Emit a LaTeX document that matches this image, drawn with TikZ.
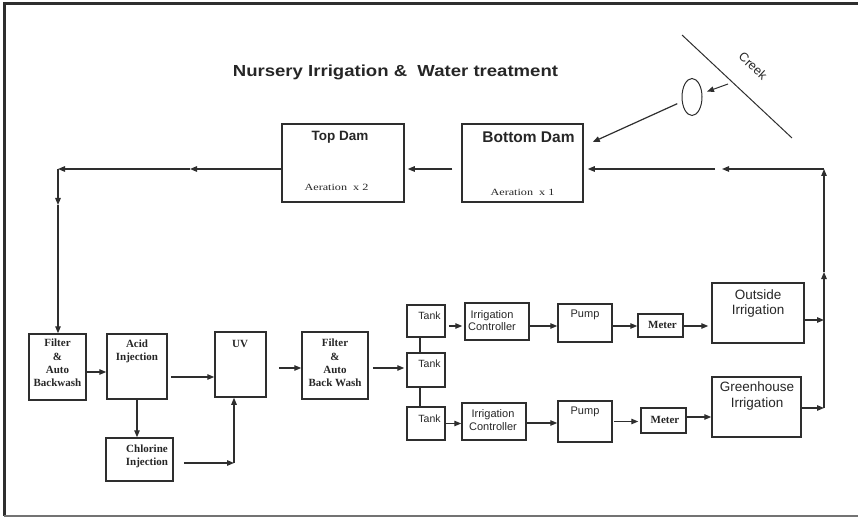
\documentclass[tikz,border=0pt]{standalone}
\usepackage{fontspec}
\setmainfont{Liberation Serif}
\newfontfamily\arialf{Liberation Sans}
\usetikzlibrary{arrows.meta,shapes.geometric}
\definecolor{linec}{HTML}{2E2E2E}
\begin{document}
\begin{tikzpicture}[x=1pt,y=-1pt,
  box/.style={draw=linec, line width=1.5pt, inner sep=0pt},
  conn/.style={draw=linec, line width=1.2pt},
  arr/.style={conn, -{Triangle[length=7pt,width=5.5pt]}},
  sanslbl/.style={font=\arialf\fontsize{11}{12.5}\selectfont, inner sep=0pt, align=center, text=black!85},
  bigsans/.style={font=\arialf\fontsize{13.5}{15.5}\selectfont, inner sep=0pt, align=center, text=black!85},
  serb/.style={font=\bfseries\fontsize{11}{13.2}\selectfont, inner sep=0pt, align=center, text=black!85},
  aer/.style={font=\fontsize{9.5}{11}\selectfont, inner sep=0pt, text=black!85},
]
\useasboundingbox (0,0) rectangle (858,518);
% frame
\draw[draw=linec, line width=3pt] (858,4) -- (4,4) -- (4,516);
\draw[draw=black!55, line width=2pt] (4,516) -- (858,516);

% title
\node[font=\arialf\bfseries\fontsize{16}{19}\selectfont, text=black!85, inner sep=0pt] (title) at (395.5,72) {\scalebox{1.16}[1]{Nursery Irrigation \&\ \ Water treatment}};

% dams
\node[box, minimum width=122pt, minimum height=78pt] (topdam) at (343,163) {};
\node[box, minimum width=121pt, minimum height=78pt] (botdam) at (522.5,163) {};
\node[font=\arialf\bfseries\fontsize{13.5}{15}\selectfont, text=black!85, inner sep=0pt] (topdamt) at (340,137) {Top Dam};
\node[font=\arialf\bfseries\fontsize{15.5}{17}\selectfont, text=black!85, inner sep=0pt] (botdamt) at (528.5,137) {Bottom Dam};
\node[aer] (aer2) at (336.5,187) {\scalebox{1.28}[1]{Aeration\ \ x 2}};
\node[aer] (aer1) at (522.5,192) {\scalebox{1.28}[1]{Aeration\ \ x 1}};

% creek and pond
\coordinate (ck1) at (682,35);
\coordinate (ck2) at (792,138);
\draw[draw=linec, line width=1pt] (ck1) -- (ck2);
\node[font=\arialf\fontsize{12.5}{14}\selectfont, text=black!85, rotate=-43, inner sep=0pt] (creek) at (753,66) {Creek};
\node[draw=linec, line width=1pt, ellipse, minimum width=20pt, minimum height=37pt, inner sep=0pt] (pond) at (692,97) {};
\coordinate (ca) at (728,84);
\draw[arr, line width=1pt, shorten >=5pt] (ca) -- (pond);
\draw[arr, shorten <=5pt] (pond) -- ([xshift=9pt,yshift=21pt]botdam.east);

% treatment train
\node[box, minimum width=57pt, minimum height=66pt] (filter1) at (57.5,367) {};
\node[serb] (filter1t) at (57.5,363) {Filter\\\&\\Auto\\Backwash};
\node[box, minimum width=60pt, minimum height=65pt] (acid) at (137,366.5) {};
\node[serb] (acidt) at (137,351.5) {Acid\\Injection};
\node[box, minimum width=51pt, minimum height=65pt] (uv) at (240.5,364.5) {};
\node[serb] (uvt) at (240,344) {UV};
\node[box, minimum width=67pt, minimum height=43pt] (chlor) at (139.5,459.5) {};
\node[serb] (chlort) at (147,456.5) {Chlorine\\Injection};
\node[box, minimum width=66pt, minimum height=67pt] (filter2) at (335,365.5) {};
\node[serb] (filter2t) at (335,363) {Filter\\\&\\Auto\\Back Wash};

% tanks
\node[box, minimum width=38pt, minimum height=32pt] (tank1) at (426,321) {};
\node[box, minimum width=38pt, minimum height=34pt] (tank2) at (426,370) {};
\node[box, minimum width=38pt, minimum height=33pt] (tank3) at (426,423.5) {};
\node[sanslbl, font=\arialf\fontsize{10.5}{12}\selectfont] (tank1t) at (429.5,316) {Tank};
\node[sanslbl, font=\arialf\fontsize{10.5}{12}\selectfont] (tank2t) at (429.5,364) {Tank};
\node[sanslbl, font=\arialf\fontsize{10.5}{12}\selectfont] (tank3t) at (429.5,419) {Tank};

% upper irrigation line
\node[box, minimum width=64pt, minimum height=37pt] (ic1) at (497,321.5) {};
\node[sanslbl] (ic1t) at (492,320.5) {Irrigation\\Controller};
\node[box, minimum width=54pt, minimum height=38pt] (pump1) at (585,323) {};
\node[sanslbl] (pump1t) at (585,315) {Pump};
\node[box, minimum width=45pt, minimum height=23pt] (meter1) at (660.5,325.5) {};
\node[serb] (meter1t) at (662.5,325) {Meter};
\node[box, minimum width=92pt, minimum height=60pt] (out) at (758,313) {};
\node[bigsans] (outt) at (758,303.5) {Outside\\Irrigation};

% lower irrigation line
\node[box, minimum width=64pt, minimum height=37pt] (ic2) at (494,421.5) {};
\node[sanslbl] (ic2t) at (493,420) {Irrigation\\Controller};
\node[box, minimum width=54pt, minimum height=41pt] (pump2) at (585,421.5) {};
\node[sanslbl] (pump2t) at (585,412) {Pump};
\node[box, minimum width=45pt, minimum height=25pt] (meter2) at (663.5,420.5) {};
\node[serb] (meter2t) at (665,420) {Meter};
\node[box, minimum width=89pt, minimum height=60pt] (green) at (756.5,407) {};
\node[bigsans] (greent) at (757,396) {Greenhouse\\Irrigation};

% dam connectors
\draw[arr] ([xshift=-9pt,yshift=-6pt]botdam.west) -- ([xshift=3pt,yshift=-6pt]topdam.east);
\coordinate (tl) at (58,169);
\coordinate (tlm) at (190,169);
\coordinate (tlv) at (58,205);
\draw[arr] ([yshift=-6pt]topdam.west) -- (tlm);
\draw[arr] (tlm) -- (tl);
\draw[arr] (tl) -- (tlv);
\draw[arr] (tlv) -- (tlv |- filter1.north);

% treatment connectors
\draw[arr] ([yshift=-5pt]filter1.east) -- ([yshift=-5pt]filter1.east -| acid.west);
\draw[arr] ([xshift=3pt,yshift=-10.5pt]acid.east) -- ([yshift=-10.5pt]acid.east -| uv.west);
\draw[arr] (acid.south) -- (acid.south |- chlor.north);
\coordinate (cu) at (234,463);
\draw[arr] ([xshift=10pt,yshift=-3.5pt]chlor.east) -- (cu);
\draw[arr] (cu) -- (cu |- uv.south);
\draw[arr] ([xshift=12pt,yshift=-3.5pt]uv.east) -- ([yshift=-3.5pt]uv.east -| filter2.west);
\draw[arr] ([xshift=4pt,yshift=-2.5pt]filter2.east) -- ([xshift=-2pt,yshift=-2.5pt]filter2.east -| tank2.west);

% tank links
\draw[conn] ([xshift=-6pt]tank1.south) -- ([xshift=-6pt]tank2.north);
\draw[conn] ([xshift=-6pt]tank2.south) -- ([xshift=-6pt]tank3.north);

% upper row connectors
\draw[arr] ([xshift=3pt,yshift=-5pt]tank1.east) -- ([xshift=-2pt,yshift=-5pt]tank1.east -| ic1.west);
\draw[arr] ([yshift=-4.5pt]ic1.east) -- ([yshift=-4.5pt]ic1.east -| pump1.west);
\draw[arr] ([yshift=-3pt]pump1.east) -- ([yshift=-3pt]pump1.east -| meter1.west);
\draw[arr] ([yshift=-0.5pt]meter1.east) -- ([xshift=-3pt,yshift=-0.5pt]meter1.east -| out.west);

% lower row connectors
\draw[arr] (tank3.east) -- (tank3.east -| ic2.west);
\draw[arr] ([yshift=-1.5pt]ic2.east) -- ([yshift=-1.5pt]ic2.east -| pump2.west);
\draw[arr] ([xshift=1pt]pump2.east) -- ([xshift=-2pt]pump2.east -| meter2.west);
\draw[arr] ([yshift=3.5pt]meter2.east) -- ([yshift=3.5pt]meter2.east -| green.west);

% return loop
\coordinate (vo) at (824,320);
\coordinate (vg) at (824,408);
\coordinate (vm) at (824,272);
\coordinate (vt) at (824,169);
\coordinate (hm) at (722,169);
\coordinate (hm2) at (715,169);
\draw[arr] ([yshift=-7pt]out.east) -- (vo);
\draw[arr] ([yshift=-1pt]green.east) -- (vg);
\draw[arr] (vg) -- (vm);
\draw[arr] (vm) -- (vt);
\draw[arr] (vt) -- (hm);
\draw[arr] (hm2) -- ([xshift=4pt,yshift=-6pt]botdam.east);
\end{tikzpicture}
\end{document}
